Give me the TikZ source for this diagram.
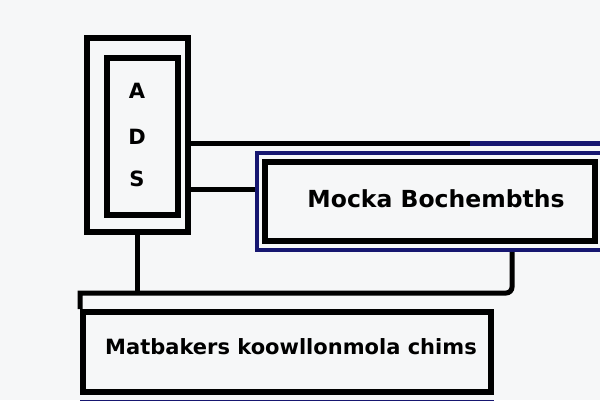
\documentclass[tikz,border=0pt]{standalone}
\usepackage{fontspec}
\setmainfont{DejaVu Sans}
\usepackage{tikz}
\usetikzlibrary{positioning, calc}

\definecolor{navy}{RGB}{22,22,112}
\definecolor{paper}{RGB}{246,247,248}

\begin{document}
\begin{tikzpicture}[x=1pt, y=-1pt, every node/.style={align=center, font=\bfseries\fontsize{21}{24}\selectfont, inner sep=0pt},
    box/.style={draw, rectangle, line width=5.5pt},
    wire/.style={draw, line width=5pt}]
        \fill[paper] (0,0) rectangle (600,400);
        \useasboundingbox (0,0) rectangle (600,400);

        % left stack
        \node (stack) [box, line width=6pt, minimum width=101pt, minimum height=194pt] at (137.5,135) {};
        \node (stackin) [box, minimum width=71pt, minimum height=157pt] at (142.5,136.5) {};
        \node (la) at (137,91) {A};
        \node (ld) [below=30pt of la] {D};
        \node (ls) [below=26pt of ld] {S};

        % right box
        \node (mocka) [box, draw=navy, line width=4pt, minimum width=346pt, minimum height=97pt] at (430,201.5) {};
        \node (mockain) [box, minimum width=330pt, minimum height=79pt] at (430,201.5) {};
        \node (mtext) [font=\bfseries\fontsize{23.5}{26}\selectfont] at (436,199) {Mocka Bochembths};

        % bottom box
        \node (matb) [box, line width=6pt, minimum width=408pt, minimum height=80pt] at (287,352) {};
        \node (btext) at (291,347) {Matbakers koowllonmola chims};

        \coordinate (edge) at (600,143);
        \coordinate (bus) at (512,293);

        \draw[wire] (stack.east |- edge) -- (470,143);
        \draw[wire, navy] (470,143) -- (edge);
        \draw[wire] (stack.east |- 0,189) -- (mocka.west |- 0,189);
        \draw[wire] (mocka.south -| bus) [rounded corners=6pt] -- (bus) -- (300,293) [sharp corners] -- (matb.west |- bus) -- (matb.north west);
        \draw[wire] (stack.south) -- (stack.south |- bus);
        \draw[navy, line width=3pt] ($(matb.south west)+(0,6)$) -- ($(matb.south east)+(0,6)$);
    \end{tikzpicture}
\end{document}
